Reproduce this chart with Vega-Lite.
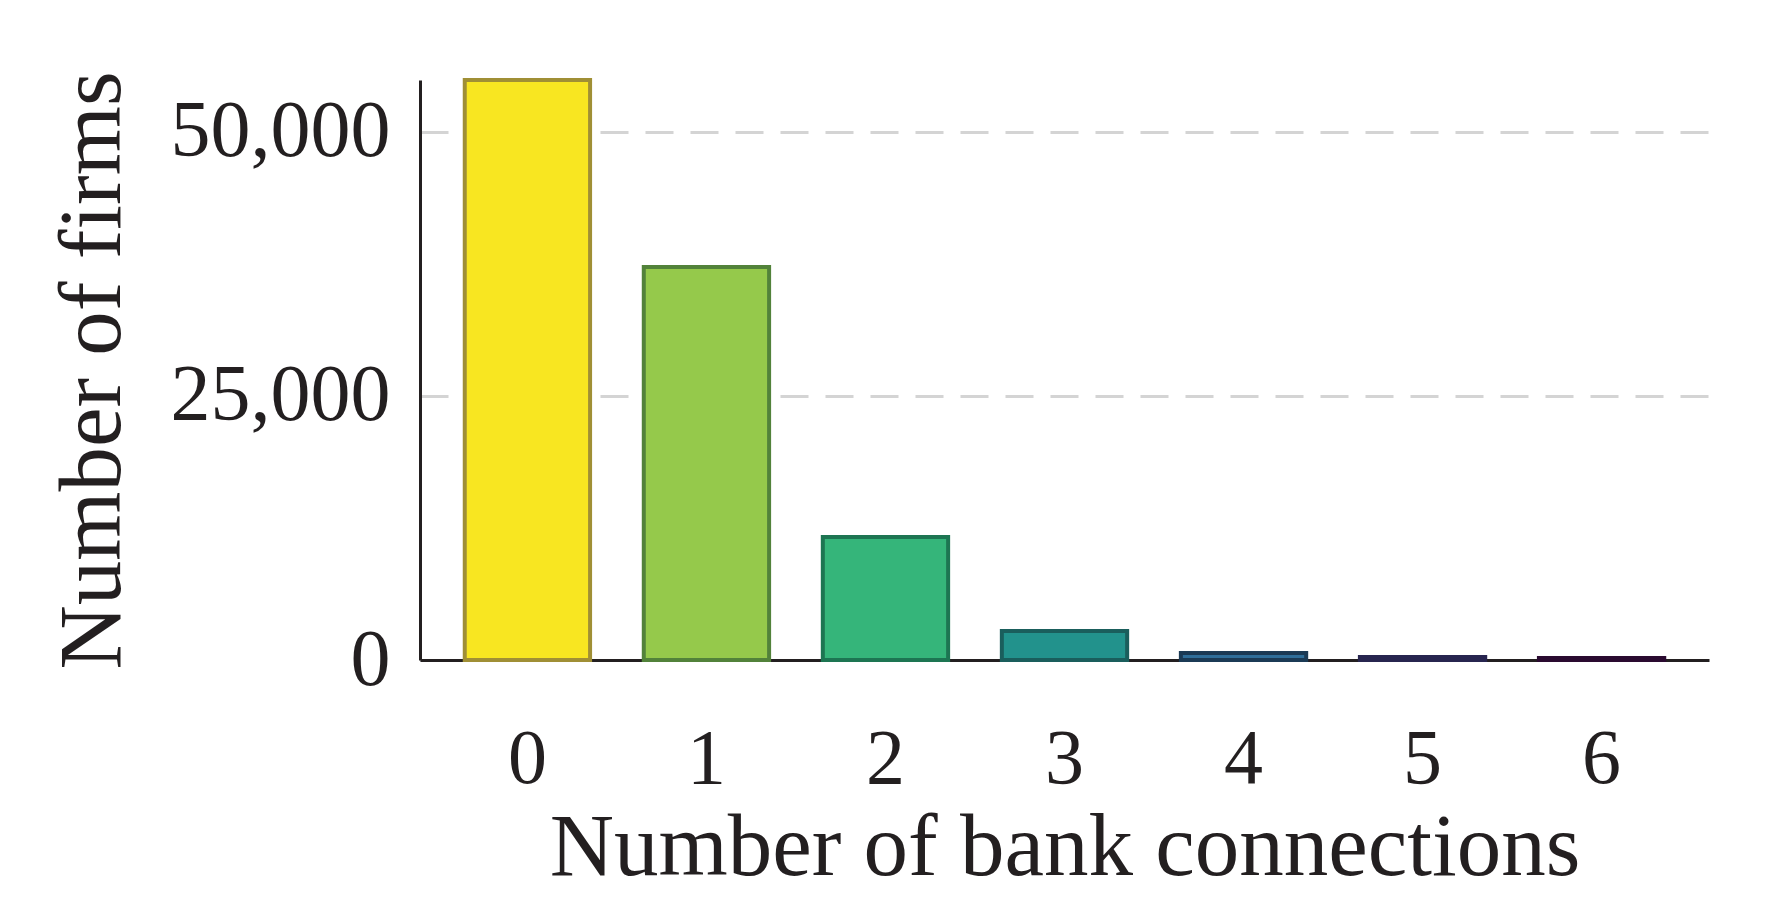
{
  "$schema": "https://vega.github.io/schema/vega-lite/v6.json",
  "width": 1289,
  "height": 580,
  "autosize": "none",
  "padding": {"left": 420, "top": 80, "right": 72, "bottom": 261},
  "background": "white",
  "data": {
    "values": [
      {"connections": "0", "firms": 54900},
      {"connections": "1", "firms": 37200},
      {"connections": "2", "firms": 11650},
      {"connections": "3", "firms": 2750},
      {"connections": "4", "firms": 660},
      {"connections": "5", "firms": 280},
      {"connections": "6", "firms": 190}
    ]
  },
  "mark": {"type": "bar", "strokeWidth": 4},
  "encoding": {
    "x": {
      "field": "connections",
      "type": "ordinal",
      "scale": {"paddingInner": 0.3, "paddingOuter": 0.25},
      "axis": {
        "title": "Number of bank connections",
        "labelAngle": 0,
        "ticks": false,
        "labelPadding": 60,
        "titlePadding": 6,
        "domainColor": "#231f20",
        "domainWidth": 3,
        "labelFont": "Liberation Serif",
        "labelFontSize": 78,
        "labelColor": "#231f20",
        "labelLimit": 0,
        "titleFont": "Liberation Serif",
        "titleFontSize": 89,
        "titleFontWeight": "normal",
        "titleColor": "#231f20"
      }
    },
    "y": {
      "field": "firms",
      "type": "quantitative",
      "scale": {"domain": [0, 54900], "nice": false},
      "axis": {
        "title": "Number of firms",
        "values": [0, 25000, 50000],
        "format": ",d",
        "ticks": false,
        "labelPadding": 30,
        "labelLimit": 0,
        "titlePadding": 82,
        "domainColor": "#231f20",
        "domainWidth": 3,
        "grid": true,
        "gridColor": "#d4d4d4",
        "gridWidth": 3,
        "gridDash": [28, 17],
        "labelFont": "Liberation Serif",
        "labelFontSize": 80,
        "labelColor": "#231f20",
        "titleFont": "Liberation Serif",
        "titleFontSize": 89,
        "titleFontWeight": "normal",
        "titleColor": "#231f20"
      }
    },
    "color": {
      "field": "connections",
      "type": "ordinal",
      "legend": null,
      "scale": {"range": ["#f8e621", "#95c94b", "#35b57a", "#22928c", "#2f6e9a", "#3b3a7e", "#440154"]}
    },
    "stroke": {
      "field": "connections",
      "type": "ordinal",
      "legend": null,
      "scale": {"range": ["#a08f35", "#52823a", "#1d7552", "#1a5e5c", "#1b3a55", "#27254f", "#2a0a30"]}
    }
  },
  "config": {"view": {"stroke": null}}
}
